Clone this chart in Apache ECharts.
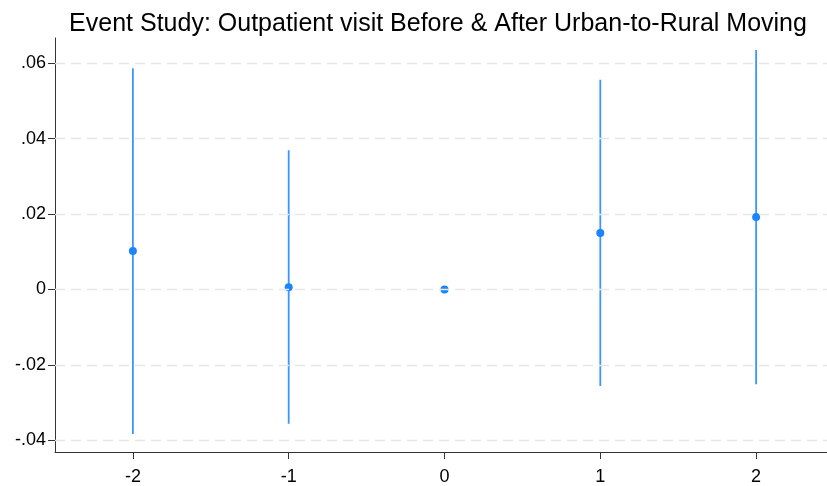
<!DOCTYPE html>
<html>
<head>
<meta charset="utf-8">
<script src="https://cdn.jsdelivr.net/npm/echarts@6/dist/echarts.min.js"></script>
<style>
  html, body { margin: 0; padding: 0; background: #fff; }
  #chart { width: 827px; height: 486px; }
</style>
</head>
<body>
<div id="chart"></div>
<script>
// Event-time periods relative to the move
const periods = [-2, -1, 0, 1, 2];
// Point estimates
const estimates = [0.0102, 0.0006, 0, 0.0150, 0.0192];
// 95% confidence bounds (reference period 0 has none)
const ciLow  = [-0.0383, -0.0356, null, -0.0256, -0.0251];
const ciHigh = [ 0.0587,  0.0369, null,  0.0556,  0.0635];
// Axis ticks
const yTicks = [-0.04, -0.02, 0, 0.02, 0.04, 0.06];
const xTicks = [-2, -1, 0, 1, 2];

const blue = '#1a85ff';
const lineBlue = '#3d96ff';

function fmtY(v) {
  if (Math.abs(v) < 1e-9) return '0';
  let s = (Math.round(v * 100) / 100).toFixed(2);
  return s.replace(/^(-?)0\./, '$1.');
}

const ciData = periods
  .map((p, i) => [p, ciLow[i], ciHigh[i]])
  .filter(d => d[1] !== null);

const chart = echarts.init(document.getElementById('chart'), null, { renderer: 'canvas' });

chart.setOption({
  animation: false,
  backgroundColor: '#ffffff',
  title: {
    text: 'Event Study: Outpatient visit Before & After Urban-to-Rural Moving',
    left: 433,
    textAlign: 'center',
    top: 7,
    textStyle: {
      fontFamily: 'Liberation Sans, Arial, sans-serif',
      fontSize: 25,
      fontWeight: 'normal',
      color: '#000'
    }
  },
  grid: { left: 55, top: 38, right: 0, bottom: 31, containLabel: false },
  xAxis: {
    type: 'value',
    min: -2.5,
    max: 2.455,
    axisLine: { show: true, onZero: false, lineStyle: { color: '#333', width: 1 } },
    axisTick: { show: true, length: 7, customValues: xTicks, lineStyle: { color: '#333' } },
    axisLabel: {
      customValues: xTicks,
      margin: 16,
      fontFamily: 'Liberation Sans, Arial, sans-serif',
      fontSize: 18,
      color: '#000'
    },
    splitLine: { show: false }
  },
  yAxis: {
    type: 'value',
    min: -0.0431,
    max: 0.0667,
    axisLine: { show: true, onZero: false, lineStyle: { color: '#333', width: 1 } },
    axisTick: { show: true, length: 7, customValues: yTicks, lineStyle: { color: '#333' } },
    axisLabel: {
      customValues: yTicks,
      margin: 9,
      formatter: fmtY,
      fontFamily: 'Liberation Sans, Arial, sans-serif',
      fontSize: 18,
      color: '#000'
    },
    splitLine: { show: false }
  },
  series: [
    {
      // horizontal dashed grid lines at the y ticks
      type: 'line',
      data: [],
      silent: true,
      markLine: {
        silent: true,
        symbol: ['none', 'none'],
        label: { show: false },
        lineStyle: { color: '#e6e6e6', type: [10, 6], width: 1.3 },
        data: yTicks.map(v => ({ yAxis: v }))
      }
    },
    {
      // confidence intervals
      type: 'custom',
      data: ciData,
      renderItem: function (params, api) {
        const lo = api.coord([api.value(0), api.value(1)]);
        const hi = api.coord([api.value(0), api.value(2)]);
        return {
          type: 'line',
          shape: { x1: lo[0], y1: lo[1], x2: hi[0], y2: hi[1] },
          style: { stroke: lineBlue, lineWidth: 1.8 }
        };
      },
      z: 3
    },
    {
      // point estimates
      type: 'scatter',
      data: periods.map((p, i) => [p, estimates[i]]),
      symbol: 'circle',
      symbolSize: 8,
      itemStyle: { color: blue, opacity: 1 },
      z: 4
    }
  ]
});
</script>
</body>
</html>
